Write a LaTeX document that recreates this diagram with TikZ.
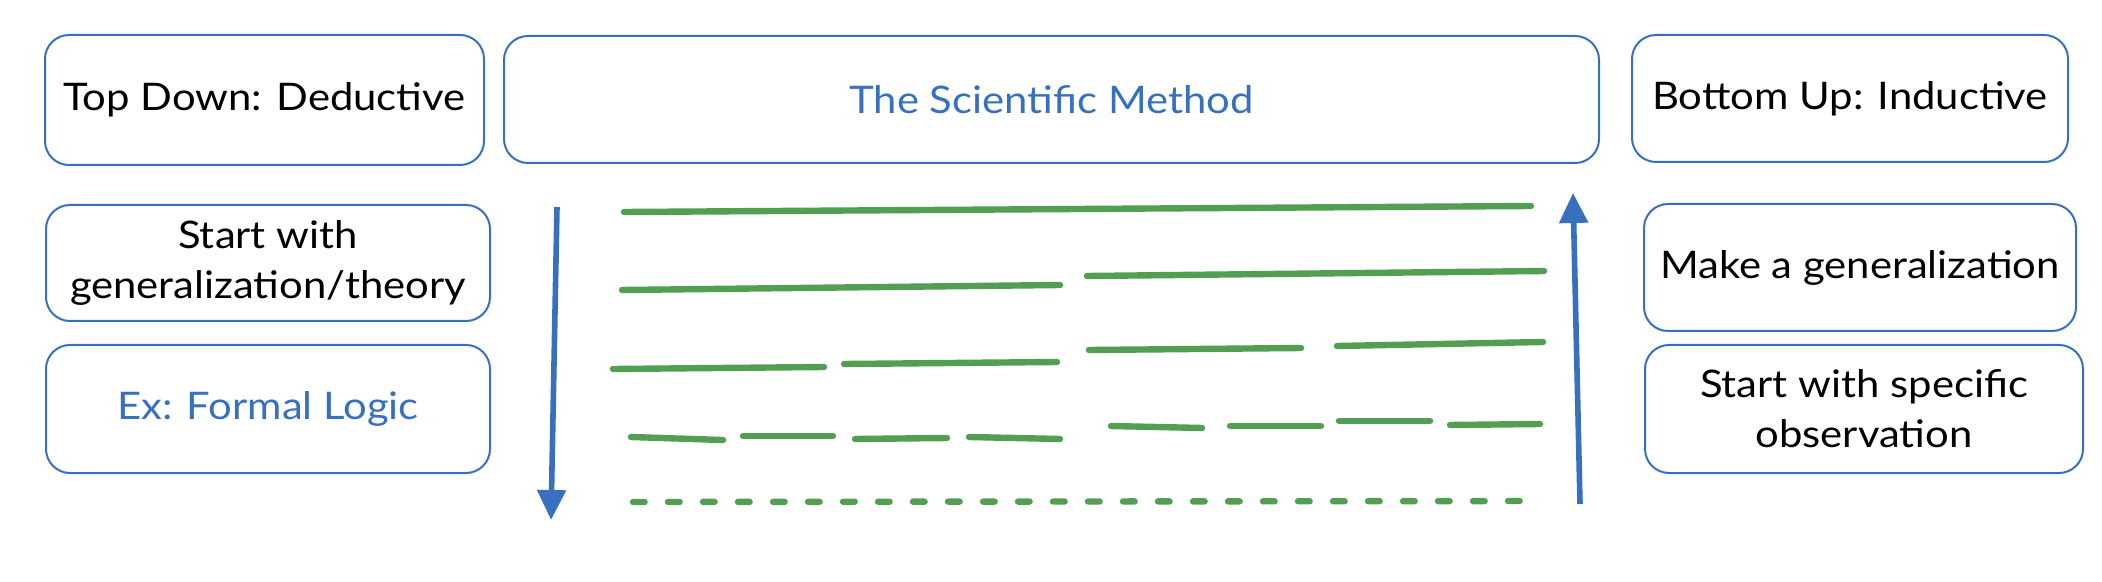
\documentclass[tikz,border=0pt]{standalone}
\usepackage{fontspec}
\setmainfont{Lato}[FakeStretch=1.1]
\usetikzlibrary{arrows.meta}
\definecolor{boxblue}{RGB}{56,112,192}
\definecolor{lgreen}{RGB}{82,158,82}
\begin{document}
\begin{tikzpicture}[x=0.5pt,y=-0.5pt,
  box/.style={draw=boxblue, line width=1pt, rounded corners=12pt, align=center,
    font=\fontsize{19}{25}\selectfont, inner sep=0pt, text=black},
  bluetext/.style={text=boxblue},
  gline/.style={draw=lgreen, line width=3.2pt, line cap=round},
  arr/.style={draw=boxblue, line width=2.8pt, -{Triangle[length=15pt,width=14pt]}}]
\useasboundingbox (0,0) rectangle (2102,582);
% boxes
\node[box, minimum width=219.5pt, minimum height=65pt] (topdown) at (264.5,100) {Top Down: Deductive};
\node[box, bluetext, minimum width=547.5pt, minimum height=63.5pt] (sci) at (1051.5,99.5) {The Scientific Method};
\node[box, minimum width=218pt, minimum height=63.5pt] (bottomup) at (1850,98.5) {Bottom Up: Inductive};
\node[box, minimum width=222pt, minimum height=58pt] (gen) at (268,263) {Start with\\generalization/theory};
\node[box, bluetext, minimum width=222pt, minimum height=64pt] (ex) at (268,409) {Ex: Formal Logic};
\node[box, minimum width=216pt, minimum height=63.5pt] (make) at (1860,267.5) {Make a generalization};
\node[box, minimum width=219pt, minimum height=64pt] (spec) at (1864,409) {Start with specific\\observation};
% arrows
\coordinate (dtop) at (557,207);
\coordinate (dbot) at (551,520);
\coordinate (ubot) at (1580,504);
\coordinate (utop) at (1573,193);
\draw[arr] (dtop) -- (dbot);
\draw[arr] (ubot) -- (utop);
% green lines
\draw[gline] (624,212) -- (1531,206);
\draw[gline] (622,290) -- (1060,285);
\draw[gline] (1087,276) -- (1544,271);
\draw[gline] (613,369) -- (824,367);
\draw[gline] (844,364) -- (1057,362);
\draw[gline] (1089,350) -- (1301,348);
\draw[gline] (1337,346) -- (1543,342);
\draw[gline] (631,437) -- (723,440);
\draw[gline] (743,436) -- (833,436);
\draw[gline] (855,439) -- (947,438);
\draw[gline] (969,437) -- (1060,439);
\draw[gline] (1111,426) -- (1202,428);
\draw[gline] (1230,426) -- (1321,426);
\draw[gline] (1339,421) -- (1430,421);
\draw[gline] (1450,425) -- (1540,424);
\draw[gline, dash pattern=on 5.8pt off 11.7pt] (633,502) -- (1531,501);
\end{tikzpicture}
\end{document}
